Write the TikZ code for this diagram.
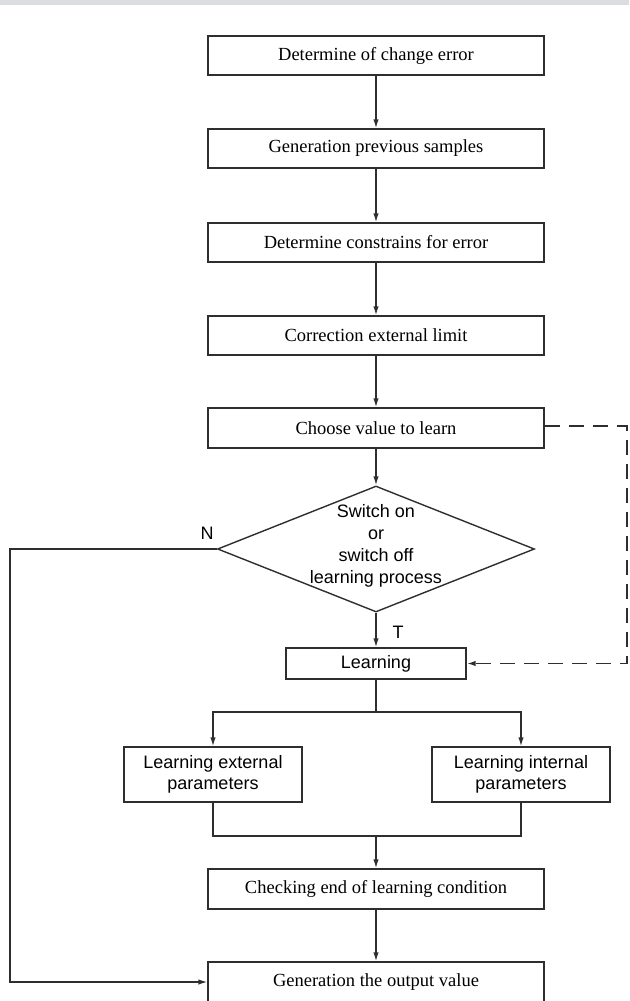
\documentclass[tikz,border=0pt]{standalone}
\usepackage{fontspec}
\setmainfont{Liberation Serif}
\newfontfamily\sansf{Liberation Sans}
\usetikzlibrary{shapes.geometric,arrows.meta}
\definecolor{ln}{HTML}{2E2E2E}
\definecolor{band}{HTML}{DCDDE1}
\begin{document}
\begin{tikzpicture}[x=1pt,y=-1pt,
  every node/.style={inner sep=0pt},
  sbox/.style={draw=ln,line width=1.4pt,minimum width=336pt,minimum height=39pt,font=\fontsize{18.5}{22}\selectfont},
  sanbox/.style={draw=ln,line width=1.4pt,align=center,font=\sansf\fontsize{18}{21.5}\selectfont},
  conn/.style={draw=ln,line width=1.4pt,-{Latex[length=9pt,width=5.5pt]}},
  plain/.style={draw=ln,line width=1.4pt},
  dashline/.style={draw=ln,line width=1.8pt,dash pattern=on 15pt off 9pt},
  lab/.style={font=\sansf\fontsize{18}{21}\selectfont}]
\useasboundingbox (0,0) rectangle (629,1001);
\fill[band] (0,0) rectangle (629,5);
\node[sbox] (b1) at (376,55.5) {Determine of change error};
\node[sbox] (b2) at (376,148.5) {Generation previous samples};
\node[sbox] (b3) at (376,242.5) {Determine constrains for error};
\node[sbox] (b4) at (376,335.5) {Correction external limit};
\node[sbox,minimum height=40pt] (b5) at (376,428) {Choose value to learn};
\node[diamond,draw=ln,line width=1.4pt,minimum width=317pt,minimum height=126pt] (d) at (376,549) {};
\node[lab,align=center,font=\sansf\fontsize{18}{22}\selectfont] (dt) at (376,546) {Switch on\\or\\switch off\\learning process};
\node[sanbox,minimum width=180pt,minimum height=31pt] (learn) at (376,663.5) {Learning};
\node[sanbox,minimum width=178pt,minimum height=55pt] (ext) at (213,774.5) {Learning external\\parameters};
\node[sanbox,minimum width=178pt,minimum height=55pt] (int) at (521,774.5) {Learning internal\\parameters};
\node[sbox,minimum height=40pt] (chk) at (376,889) {Checking end of learning condition};
\node[sbox,minimum height=40pt] (gen) at (376,982) {Generation the output value};
\node[lab] (nlab) at (207,533) {N};
\node[lab] (tlab) at (398,632) {T};
\coordinate (split) at (376,712);
\coordinate (join) at (376,836);
\coordinate (nleft) at (10,549);
\coordinate (dright) at (627,426);
\path[conn] (b1) -- (b2);
\path[conn] (b2) -- (b3);
\path[conn] (b3) -- (b4);
\path[conn] (b4) -- (b5);
\path[conn] (b5) -- (d.north);
\path[conn] (d.south) -- (learn.north);
\path[plain] (learn.south) -- (split);
\path[conn] (split) -| (ext.north);
\path[conn] (split) -| (int.north);
\path[plain] (ext.south) |- (join) -| (int.south);
\path[conn] (join) -- (chk.north);
\path[conn] (chk) -- (gen);
\path[conn] (d.west) -- (nleft) |- (gen.west);
\path[dashline,-{Latex[length=9pt,width=5.5pt]}] (b5.east |- dright) -- (dright) |- (learn.east);
\end{tikzpicture}
\end{document}
